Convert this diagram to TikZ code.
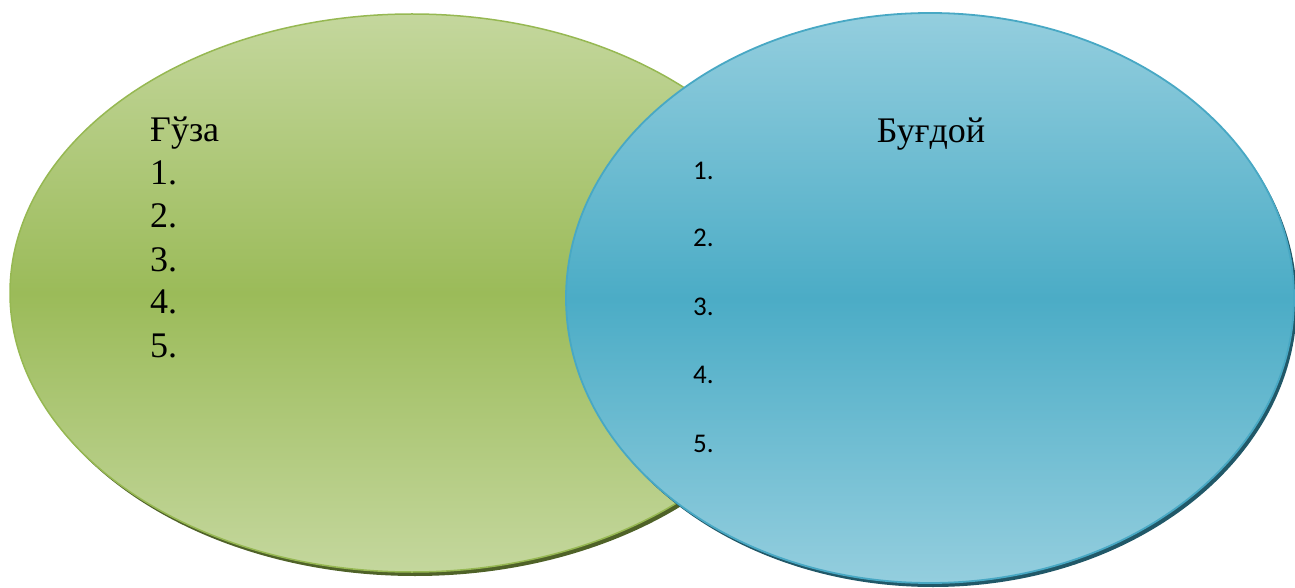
\documentclass[tikz,border=0pt]{standalone}
\usepackage{fontspec}
\setmainfont{Liberation Serif}
\newfontfamily\calfont{Carlito}
\definecolor{gtop}{RGB}{196,215,157}
\definecolor{gmid}{RGB}{155,187,89}
\definecolor{gline}{RGB}{150,184,82}
\definecolor{gshadow}{RGB}{79,98,40}
\definecolor{btop}{RGB}{148,206,222}
\definecolor{bmid}{RGB}{75,172,198}
\definecolor{bline}{RGB}{72,168,196}
\definecolor{bshadow}{RGB}{33,88,104}
\tikzset{
  serif/.style={font=\fontsize{36}{43}\selectfont, anchor=base west, inner sep=0pt},
  sanslbl/.style={font=\calfont\fontsize{27}{32}\selectfont, anchor=base west, inner sep=0pt},
}
\begin{document}
\begin{tikzpicture}[x=1pt,y=1pt]
\useasboundingbox (0,0) rectangle (1295,587);
% green ellipse
\fill[gshadow] (415,290) ellipse [x radius=402, y radius=279];
\shade[top color=gtop, bottom color=gtop, middle color=gmid, draw=gline, line width=1.5pt]
  (412,294) ellipse [x radius=402, y radius=279];
% blue ellipse
\fill[bshadow] (933,285) ellipse [x radius=364, y radius=285];
\shade[top color=btop, bottom color=btop, middle color=bmid, draw=bline, line width=1.8pt]
  (930,289) ellipse [x radius=364, y radius=285];
% left texts
\node[serif] (gt) at (150,445) {Ғўза};
\node[serif] (g1) at (150,402) {1.};
\node[serif] (g2) at (150,359) {2.};
\node[serif] (g3) at (150,315) {3.};
\node[serif] (g4) at (150,273) {4.};
\node[serif] (g5) at (150,230) {5.};
% right texts
\node[font=\fontsize{36}{43}\selectfont, anchor=base, inner sep=0pt] (bt) at (931,444) {Буғдой};
\node[sanslbl] (b1) at (693,407) {1.};
\node[sanslbl] (b2) at (693,340) {2.};
\node[sanslbl] (b3) at (693,272) {3.};
\node[sanslbl] (b4) at (693,204) {4.};
\node[sanslbl] (b5) at (693,135) {5.};
\end{tikzpicture}
\end{document}
